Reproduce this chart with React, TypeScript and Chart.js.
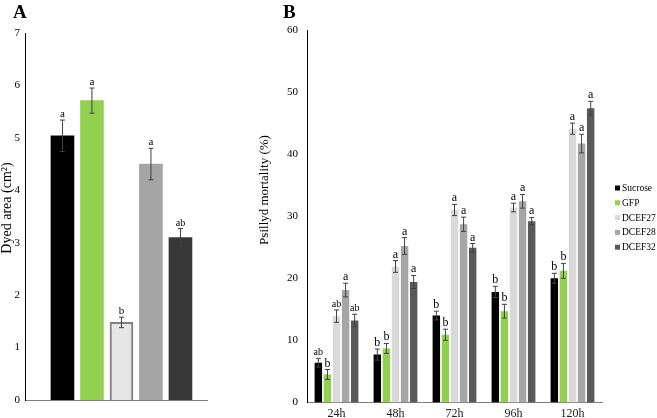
import React, { useEffect, useRef } from 'react';
import { Chart, registerables } from 'chart.js';

Chart.register(...registerables);

// ---------- Panel A data ----------
const treatments = ['Sucrose', 'GFP', 'DCEF27', 'DCEF28', 'DCEF32'];
const dyedArea = [5.04, 5.71, 1.48, 4.5, 3.1];
const dyedAreaErr = [0.3, 0.24, 0.1, 0.3, 0.17];
const dyedAreaLetters = ['a', 'a', 'b', 'a', 'ab'];
const areaColors = ['#000000', '#92d050', '#e7e6e6', '#a5a5a5', '#383838'];
const areaBorderColors = ['#000000', '#92d050', '#808080', '#a5a5a5', '#383838'];
const areaBorderWidths = [0, 0, 2, 0, 0];
const areaTicks = [0, 1, 2, 3, 4, 5, 6, 7];

// ---------- Panel B data ----------
const timePoints = ['24h', '48h', '72h', '96h', '120h'];
const sucrose = [6.4, 7.7, 14.0, 17.8, 20.0];
const gfp = [4.5, 8.7, 10.9, 14.7, 21.2];
const dcef27 = [13.9, 21.9, 31.0, 31.4, 44.1];
const dcef28 = [18.1, 25.2, 28.7, 32.4, 41.7];
const dcef32 = [13.2, 19.4, 24.9, 29.2, 47.4];

const sucroseErr = [0.7, 0.9, 0.7, 0.9, 0.8];
const gfpErr = [0.8, 0.8, 0.9, 1.1, 1.2];
const dcef27Err = [1.0, 0.95, 0.9, 0.7, 0.9];
const dcef28Err = [1.1, 1.35, 1.15, 1.1, 1.5];
const dcef32Err = [1.0, 1.05, 0.7, 0.6, 1.1];

const sucroseLetters = ['ab', 'b', 'b', 'b', 'b'];
const gfpLetters = ['b', 'b', 'b', 'b', 'b'];
const dcef27Letters = ['ab', 'a', 'a', 'a', 'a'];
const dcef28Letters = ['a', 'a', 'a', 'a', 'a'];
const dcef32Letters = ['ab', 'a', 'a', 'a', 'a'];

const seriesColors = ['#000000', '#92d050', '#d9d9d9', '#a6a6a6', '#595959'];

const FONT = "'Liberation Serif', 'Times New Roman', serif";

// ---------- plugins ----------
const errLettersPlugin = {
  id: 'errLetters',
  afterDatasetsDraw(chart: any, _args: any, opts: any) {
    const { ctx } = chart;
    const yScale = chart.scales.y;
    chart.data.datasets.forEach((ds: any, di: number) => {
      const meta = chart.getDatasetMeta(di);
      meta.data.forEach((bar: any, i: number) => {
        const v = meta.controller.getParsed(i).y;
        const e = ds.errors ? ds.errors[i] : 0;
        const yT = yScale.getPixelForValue(v + e);
        const yB = yScale.getPixelForValue(v - e);
        const x = bar.x;
        ctx.save();
        ctx.strokeStyle = opts.color || '#404040';
        ctx.lineWidth = 1;
        ctx.beginPath();
        ctx.moveTo(x, yT);
        ctx.lineTo(x, yB);
        ctx.moveTo(x - opts.cap, yT);
        ctx.lineTo(x + opts.cap, yT);
        ctx.moveTo(x - opts.cap, yB);
        ctx.lineTo(x + opts.cap, yB);
        ctx.stroke();
        const letter = ds.letters ? ds.letters[i] : '';
        if (letter) {
          const size = letter.length > 1 ? opts.multiSize : opts.singleSize;
          ctx.font = `${size}px ${FONT}`;
          ctx.fillStyle = '#000';
          ctx.textAlign = 'center';
          ctx.textBaseline = 'alphabetic';
          ctx.fillText(letter, x, yT - opts.gap);
        }
        ctx.restore();
      });
    });
  },
};

const panelTextPlugin = {
  id: 'panelText',
  afterDraw(chart: any, _args: any, opts: any) {
    const { ctx } = chart;
    ctx.save();
    ctx.fillStyle = '#000';
    ctx.font = `bold 19px ${FONT}`;
    ctx.textAlign = 'left';
    ctx.textBaseline = 'alphabetic';
    ctx.fillText(opts.panel, opts.panelX, opts.panelY);
    ctx.translate(opts.titleX, opts.titleY);
    ctx.rotate(-Math.PI / 2);
    ctx.font = `${opts.titleSize}px ${FONT}`;
    ctx.textAlign = 'center';
    ctx.textBaseline = 'middle';
    ctx.fillText(opts.title, 0, 0);
    ctx.restore();
  },
};

const sideLegendPlugin = {
  id: 'sideLegend',
  afterDraw(chart: any, _args: any, opts: any) {
    if (!opts || !opts.show) return;
    const { ctx } = chart;
    ctx.save();
    chart.data.datasets.forEach((ds: any, i: number) => {
      const y = opts.y + i * opts.step;
      ctx.fillStyle = ds.backgroundColor;
      ctx.fillRect(opts.x, y - opts.box / 2, opts.box, opts.box);
      ctx.fillStyle = '#000';
      ctx.font = `${opts.size}px ${FONT}`;
      ctx.textAlign = 'left';
      ctx.textBaseline = 'middle';
      ctx.fillText(ds.label, opts.x + opts.box + 2, y + 0.5);
    });
    ctx.restore();
  },
};

export default function App() {
  const refA = useRef<HTMLCanvasElement>(null);
  const refB = useRef<HTMLCanvasElement>(null);

  useEffect(() => {
    const chartA = new Chart(refA.current as HTMLCanvasElement, {
      type: 'bar',
      data: {
        datasets: [
          {
            label: 'Dyed area',
            data: treatments.map((_t, i) => ({ x: i, y: dyedArea[i] })),
            backgroundColor: areaColors,
            borderColor: areaBorderColors,
            borderWidth: areaBorderWidths,
            barThickness: 23,
            errors: dyedAreaErr,
            letters: dyedAreaLetters,
          } as any,
        ],
      },
      options: {
        responsive: false,
        animation: false,
        layout: { padding: { top: 33, bottom: 18, left: 0, right: 8 } },
        plugins: {
          legend: { display: false },
          tooltip: { enabled: false },
          errLetters: { color: '#404040', cap: 2.5, singleSize: 11, multiSize: 10, gap: 3 },
          panelText: {
            panel: 'A', panelX: 13, panelY: 17.5,
            title: 'Dyed area (cm²)', titleX: 7, titleY: 208, titleSize: 14,
          },
        } as any,
        scales: {
          x: {
            type: 'linear',
            offset: false,
            min: -1.27,
            max: 4.9,
            grid: { display: false, drawTicks: false },
            ticks: { display: false },
            border: { color: '#7f7f7f' },
          },
          y: {
            min: 0,
            max: 7,
            afterBuildTicks: (s: any) => { s.ticks = areaTicks.map((v) => ({ value: v })); },
            ticks: { padding: 5, color: '#000', font: { family: FONT, size: 11 } },
            grid: { display: false, drawTicks: false },
            border: { color: '#000' },
            afterFit: (s: any) => { s.width = 25; },
          },
        } as any,
      },
      plugins: [errLettersPlugin, panelTextPlugin],
    });

    const series = [
      { label: 'Sucrose', data: sucrose, errors: sucroseErr, letters: sucroseLetters },
      { label: 'GFP', data: gfp, errors: gfpErr, letters: gfpLetters },
      { label: 'DCEF27', data: dcef27, errors: dcef27Err, letters: dcef27Letters },
      { label: 'DCEF28', data: dcef28, errors: dcef28Err, letters: dcef28Letters },
      { label: 'DCEF32', data: dcef32, errors: dcef32Err, letters: dcef32Letters },
    ];

    const chartB = new Chart(refB.current as HTMLCanvasElement, {
      type: 'bar',
      data: {
        labels: timePoints,
        datasets: series.map((s, i) => ({
          ...s,
          backgroundColor: seriesColors[i],
          borderWidth: 0,
          categoryPercentage: 0.77,
          barPercentage: 0.82,
        })) as any,
      },
      options: {
        responsive: false,
        animation: false,
        layout: { padding: { top: 30, bottom: 0, left: 0, right: 55 } },
        plugins: {
          legend: { display: false },
          tooltip: { enabled: false },
          errLetters: { color: '#404040', cap: 2.5, singleSize: 12, multiSize: 10, gap: 3 },
          panelText: {
            panel: 'B', panelX: 26, panelY: 17.5,
            title: 'Psillyd mortality (%)', titleX: 8, titleY: 190, titleSize: 13,
          },
          sideLegend: { show: true, x: 358, y: 188, step: 14.8, box: 5, size: 9.5 },
        } as any,
        scales: {
          x: {
            grid: { display: false, drawTicks: false },
            ticks: { padding: 4, color: '#222', font: { family: FONT, size: 12 } },
            border: { color: '#7f7f7f' },
            afterFit: (s: any) => { s.height = 15; },
          },
          y: {
            min: 0,
            max: 60,
            ticks: { stepSize: 10, padding: 9, color: '#000', font: { family: FONT, size: 11 } },
            grid: { display: false, drawTicks: false },
            border: { color: '#000' },
            afterFit: (s: any) => { s.width = 50; },
          },
        } as any,
      },
      plugins: [errLettersPlugin, panelTextPlugin, sideLegendPlugin],
    });

    return () => {
      chartA.destroy();
      chartB.destroy();
    };
  }, []);

  return (
    <div
      style={{
        position: 'fixed',
        left: 0,
        top: 0,
        width: 657,
        height: 418,
        overflow: 'hidden',
        background: '#fff',
      }}
    >
      <canvas
        ref={refA}
        width={215}
        height={418}
        style={{ position: 'absolute', left: 0, top: 0, width: 215, height: 418 }}
      />
      <canvas
        ref={refB}
        width={400}
        height={418}
        style={{ position: 'absolute', left: 257, top: 0, width: 400, height: 418 }}
      />
    </div>
  );
}
